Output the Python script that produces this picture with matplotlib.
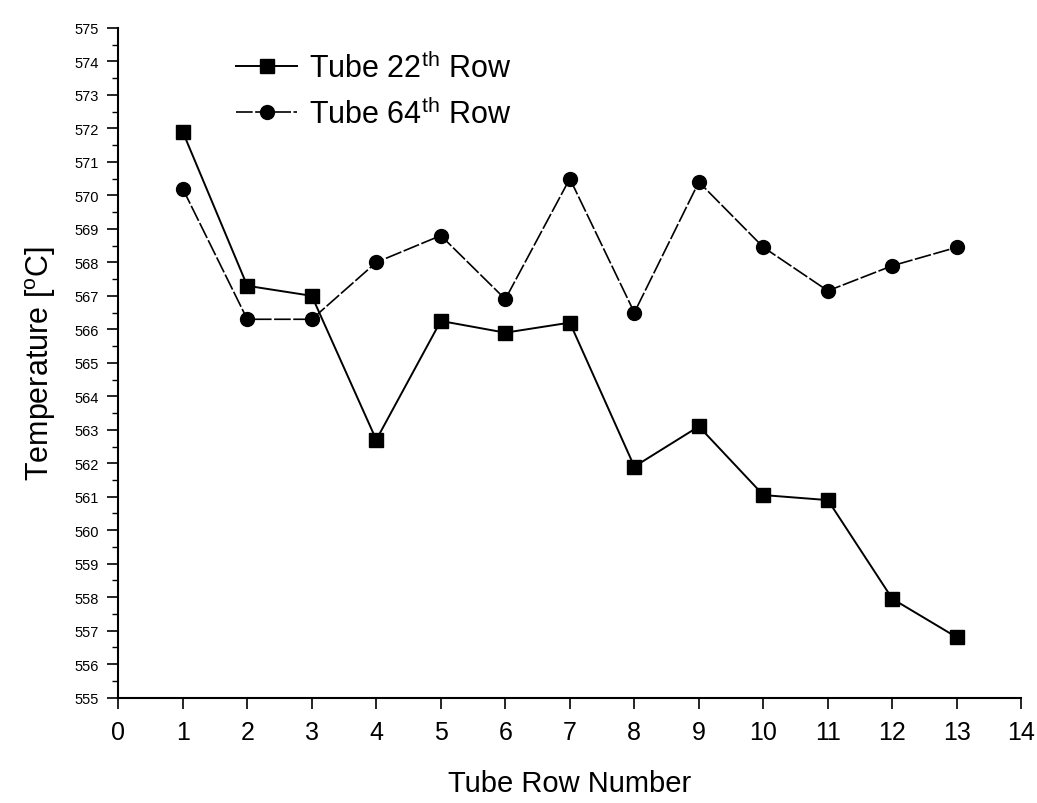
import matplotlib
matplotlib.use('Agg')
import matplotlib.pyplot as plt
from matplotlib.ticker import MultipleLocator

plt.rcParams['font.family'] = ['Liberation Sans', 'DejaVu Sans']
plt.rcParams['mathtext.fontset'] = 'custom'
plt.rcParams['mathtext.rm'] = 'Liberation Sans'

# Данные
rows = [1, 2, 3, 4, 5, 6, 7, 8, 9, 10, 11, 12, 13]
temp_22 = [571.9, 567.3, 567.0, 562.7, 566.25, 565.9, 566.2, 561.9, 563.1, 561.05, 560.9, 557.95, 556.8]
temp_64 = [570.2, 566.3, 566.3, 568.0, 568.8, 566.9, 570.5, 566.5, 570.4, 568.45, 567.15, 567.9, 568.45]
x_ticks = list(range(0, 15))
y_ticks = list(range(555, 576))

fig = plt.figure(figsize=(10.37, 8.04), dpi=100)
ax = fig.add_axes([0.114, 0.131, 0.871, 0.833])

ax.plot(rows, temp_22, color='black', lw=1.4, marker='s', ms=10,
        label='Tube 22$^{\\mathrm{th}}$ Row')
ax.plot(rows, temp_64, color='black', lw=1.2, marker='o', ms=10,
        linestyle=(0, (10, 1.5)), label='Tube 64$^{\\mathrm{th}}$ Row')

ax.set_xlim(0, 14)
ax.set_ylim(555, 575)
ax.set_xticks(x_ticks)
ax.set_yticks(y_ticks)
ax.set_yticklabels([str(v) for v in y_ticks], fontsize=10.5)
ax.yaxis.set_minor_locator(MultipleLocator(0.5))
ax.tick_params(axis='x', labelsize=18, length=8, width=1.2, pad=8)
ax.tick_params(axis='y', which='major', length=8, width=1.2, pad=6)
ax.tick_params(axis='y', which='minor', length=4, width=1.0)

ax.spines['top'].set_visible(False)
ax.spines['right'].set_visible(False)
ax.spines['left'].set_linewidth(1.5)
ax.spines['bottom'].set_linewidth(1.5)

ax.set_xlabel('Tube Row Number', fontsize=21, labelpad=18)
ax.set_ylabel('Temperature [$^{\\mathrm{o}}$C]', fontsize=22, labelpad=12)

ax.legend(loc='upper left', bbox_to_anchor=(0.1, 1.005), frameon=False,
          fontsize=22, handlelength=2.0, handletextpad=0.4, labelspacing=0.45)

fig.savefig('out.png', dpi=100, facecolor='white')
